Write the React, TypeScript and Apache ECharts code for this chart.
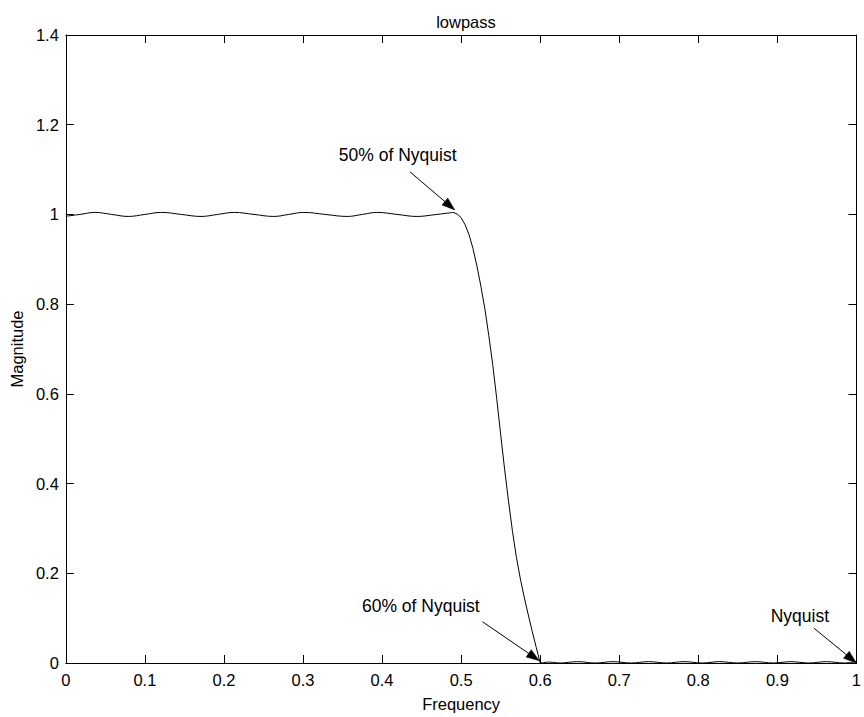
import React, { useEffect, useRef } from "react";
import * as echarts from "echarts";

// Normalized frequency (x Nyquist) and magnitude
// Passband ripple (0 .. 0.49)
const freqPass = [
  0, 0.018, 0.037, 0.058, 0.079, 0.1, 0.121, 0.146, 0.171, 0.192, 0.213, 0.238,
  0.263, 0.282, 0.301, 0.328, 0.356, 0.375, 0.394, 0.419, 0.444, 0.467, 0.49,
];
const magPass = [
  0.996, 1.0, 1.0045, 1.0, 0.9955, 1.0, 1.0045, 1.0, 0.9955, 1.0, 1.0045, 1.0,
  0.9955, 1.0, 1.0045, 1.0, 0.9955, 1.0, 1.0045, 1.0, 0.9955, 0.9995, 1.0045,
];
// Transition band (0.49 .. 0.6)
const freqTrans = [
  0.49, 0.495, 0.5, 0.505, 0.51, 0.515, 0.52, 0.525, 0.53, 0.535, 0.54, 0.545,
  0.55, 0.555, 0.56, 0.565, 0.57, 0.575, 0.58, 0.585, 0.59, 0.595, 0.6,
];
const magTrans = [
  1.0045, 1.001, 0.993, 0.977, 0.955, 0.924, 0.885, 0.84, 0.79, 0.73, 0.665,
  0.59, 0.51, 0.432, 0.36, 0.293, 0.235, 0.187, 0.145, 0.107, 0.07, 0.035, 0.0,
];
// Stopband (0.6 .. 1)
const freqStop = [
  0.6, 0.612, 0.625, 0.647, 0.67, 0.692, 0.715, 0.737, 0.76, 0.782, 0.805,
  0.827, 0.85, 0.872, 0.895, 0.917, 0.94, 0.962, 0.985, 1.0,
];
const magStop = [
  0.0, 0.002, 0.0, 0.003, 0.0, 0.003, 0.0, 0.003, 0.0, 0.003, 0.0, 0.003, 0.0,
  0.003, 0.0, 0.003, 0.0, 0.003, 0.0, 0.003,
];

const xTicks = ["0", "0.1", "0.2", "0.3", "0.4", "0.5", "0.6", "0.7", "0.8", "0.9", "1"];
const yTicks = ["0", "0.2", "0.4", "0.6", "0.8", "1", "1.2", "1.4"];

// Annotations: label, label centre, arrow tail, arrow tip (data coords)
const annLabels = ["50% of Nyquist", "60% of Nyquist", "Nyquist"];
const annTextPos = [
  [0.4197, 1.1325],
  [0.449, 0.128],
  [0.9285, 0.1048],
];
const annTail = [
  [0.4355, 1.0946],
  [0.527, 0.092],
  [0.9465, 0.0774],
];
const annTip = [
  [0.492, 1.0099],
  [0.599, 0.005],
  [1.0, 0.0],
];

const FONT_FAMILY = '"Liberation Sans", Arial, Helvetica, sans-serif';
const FS = 16.5;
const FS_ANN = 17.5;

export default function App() {
  const ref = useRef<HTMLDivElement>(null);

  useEffect(() => {
    if (!ref.current) return;
    const chart = echarts.init(ref.current, undefined, { renderer: "svg" });
    const toData = (xs: number[], ys: number[]) => xs.map((f, i) => [f, ys[i]]);

    const axisLine = { show: true, onZero: false, lineStyle: { color: "#000", width: 1 } };
    const axisTick = { show: true, inside: true, length: 8, lineStyle: { color: "#000", width: 1 } };
    const labelStyle = { color: "#000", fontSize: FS, fontFamily: FONT_FAMILY };

    const lineSeries = (data: number[][], name: string, smooth: number | boolean) => ({
      type: "line",
      name,
      data,
      xAxisIndex: 0,
      yAxisIndex: 0,
      smooth,
      showSymbol: false,
      symbol: "none",
      lineStyle: { color: "#000", width: 1 },
      silent: true,
    });

    chart.setOption({
      animation: false,
      backgroundColor: "#fff",
      title: {
        text: "lowpass",
        left: 461,
        top: 8,
        textAlign: "center",
        textStyle: { ...labelStyle, fontWeight: "normal" },
      },
      grid: { left: 64, right: 5.5, top: 35, bottom: 54, containLabel: false },
      xAxis: [
        {
          type: "value",
          min: 0,
          max: 1,
          interval: 0.1,
          position: "bottom",
          axisLine,
          axisTick,
          splitLine: { show: false },
          axisLabel: {
            ...labelStyle,
            margin: 8,
            formatter: (v: number) => xTicks[Math.round(v * 10)] ?? "",
          },
          name: "Frequency",
          nameLocation: "middle",
          nameGap: 32,
          nameTextStyle: labelStyle,
        },
        {
          type: "value",
          min: 0,
          max: 1,
          interval: 0.1,
          position: "top",
          axisLine,
          axisTick,
          splitLine: { show: false },
          axisLabel: { show: false },
        },
      ],
      yAxis: [
        {
          type: "value",
          min: 0,
          max: 1.4,
          interval: 0.2,
          position: "left",
          axisLine,
          axisTick,
          splitLine: { show: false },
          axisLabel: {
            ...labelStyle,
            margin: 7,
            formatter: (v: number) => yTicks[Math.round(v * 5)] ?? "",
          },
          name: "Magnitude",
          nameLocation: "middle",
          nameGap: 37,
          nameTextStyle: labelStyle,
        },
        {
          type: "value",
          min: 0,
          max: 1.4,
          interval: 0.2,
          position: "right",
          axisLine,
          axisTick,
          splitLine: { show: false },
          axisLabel: { show: false },
        },
      ],
      series: [
        lineSeries(toData(freqPass, magPass), "passband", 0.4),
        lineSeries(toData(freqTrans, magTrans), "transition", false),
        lineSeries(toData(freqStop, magStop), "stopband", 0.4),
      ],
    });

    // annotations: arrows computed from data coordinates
    const graphics: any[] = [];
    annLabels.forEach((label, i) => {
      const tp = chart.convertToPixel({ gridIndex: 0 }, annTextPos[i]) as number[];
      const s = chart.convertToPixel({ gridIndex: 0 }, annTail[i]) as number[];
      const t = chart.convertToPixel({ gridIndex: 0 }, annTip[i]) as number[];
      const dx = t[0] - s[0];
      const dy = t[1] - s[1];
      const len = Math.hypot(dx, dy);
      const ux = dx / len;
      const uy = dy / len;
      const nx = -uy;
      const ny = ux;
      const L = 13;
      const W = 4.5;
      const bx = t[0] - L * ux;
      const by = t[1] - L * uy;
      graphics.push({
        type: "text",
        x: tp[0],
        y: tp[1],
        style: {
          text: label,
          fill: "#000",
          font: `${FS_ANN}px ${FONT_FAMILY}`,
          align: "center",
          verticalAlign: "middle",
        },
        silent: true,
      });
      graphics.push({
        type: "line",
        shape: { x1: s[0], y1: s[1], x2: bx + 2 * ux, y2: by + 2 * uy },
        style: { stroke: "#000", lineWidth: 1 },
        silent: true,
      });
      graphics.push({
        type: "polygon",
        shape: {
          points: [
            [t[0], t[1]],
            [bx + W * nx, by + W * ny],
            [bx - W * nx, by - W * ny],
          ],
        },
        style: { fill: "#000", stroke: "#000", lineWidth: 0.5 },
        silent: true,
      });
    });
    chart.setOption({ graphic: graphics });

    return () => chart.dispose();
  }, []);

  return (
    <div
      ref={ref}
      style={{ position: "fixed", left: 0, top: 0, width: 864, height: 717, background: "#fff" }}
    />
  );
}
